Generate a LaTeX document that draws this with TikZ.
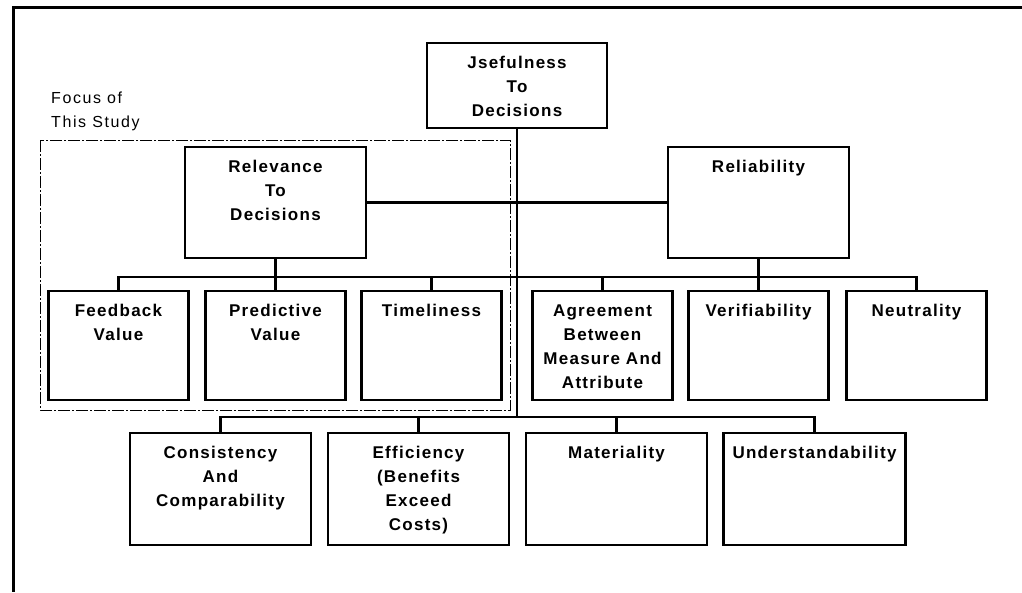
\documentclass[tikz,border=0pt]{standalone}
\usepackage{fontspec}
\newfontfamily\bxf[LetterSpace=7.5]{Liberation Sans}
\newfontfamily\fcf[LetterSpace=10]{Liberation Sans}
\newcommand\bxt[3]{\parbox[c][#2pt][t]{#1pt}{\centering\rule{0pt}{25.5pt}#3\par}}
\begin{document}
\begin{tikzpicture}[x=1pt,y=-1pt,
  box/.style={draw, line width=2.2pt, inner sep=0pt, font=\bxf\bfseries\fontsize{17}{24}\selectfont},
  conn/.style={line width=2.2pt},
  frameline/.style={line width=3pt},
  focusline/.style={line width=1pt, dash pattern=on 12pt off 2pt on 2pt off 2pt},
  fctext/.style={inner sep=0pt, font=\fcf\fontsize{16}{24}\selectfont}]
\useasboundingbox (0,0) rectangle (1022,592);
% outer frame (cropped)
\draw[frameline] (1022,7) -- (13,7) -- (13,592);
% focus region
\draw[focusline] (40,140) rectangle (510,410);
\node[fctext, anchor=base west] (ft) at (51,103) {\parbox[t]{150pt}{Focus of\\This Study}};
% boxes
\node[box] (use) at (517,85.5) {\bxt{180}{85}{Jsefulness\\To\\Decisions}};
\node[box] (rel) at (275.5,202.5) {\bxt{181}{111}{Relevance\\To\\Decisions}};
\node[box] (rlb) at (758.5,202.5) {\bxt{181}{111}{Reliability}};
\node[box] (fb) at (118.5,345.5) {\bxt{140}{109}{Feedback\\Value}};
\node[box] (pv) at (275.5,345.5) {\bxt{140}{109}{Predictive\\Value}};
\node[box] (tl) at (431.5,345.5) {\bxt{140}{109}{Timeliness}};
\node[box] (ag) at (602.5,345.5) {\bxt{140}{109}{Agreement\\Between\\Measure And\\Attribute}};
\node[box] (ve) at (758.5,345.5) {\bxt{140}{109}{Verifiability}};
\node[box] (ne) at (916.5,345.5) {\bxt{140}{109}{Neutrality}};
\node[box] (cc) at (220.5,489) {\bxt{181}{112}{Consistency\\And\\Comparability}};
\node[box] (ef) at (418.5,489) {\bxt{181}{112}{Efficiency\\(Benefits\\Exceed\\Costs)}};
\node[box] (ma) at (616.5,489) {\bxt{181}{112}{Materiality}};
\node[box] (un) at (814.5,489) {\bxt{182}{112}{Understandability}};
% connectors
\coordinate (j) at (517,417);
\coordinate (b2) at (0,277);
\draw[conn] (use.south) -- (j);
\draw[conn] (cc.north) |- (j) -| (un.north);
\draw[conn] (ef.north) -- (ef.north |- j);
\draw[conn] (ma.north) -- (ma.north |- j);
\draw[conn] (rel) -- (rlb);
\draw[conn] (fb.north) |- (b2 -| ne.north) -- (ne.north);
\draw[conn] (rel.south) -- (pv.north);
\draw[conn] (rlb.south) -- (ve.north);
\draw[conn] (tl.north) -- (tl.north |- b2);
\draw[conn] (ag.north) -- (ag.north |- b2);
\end{tikzpicture}
\end{document}
